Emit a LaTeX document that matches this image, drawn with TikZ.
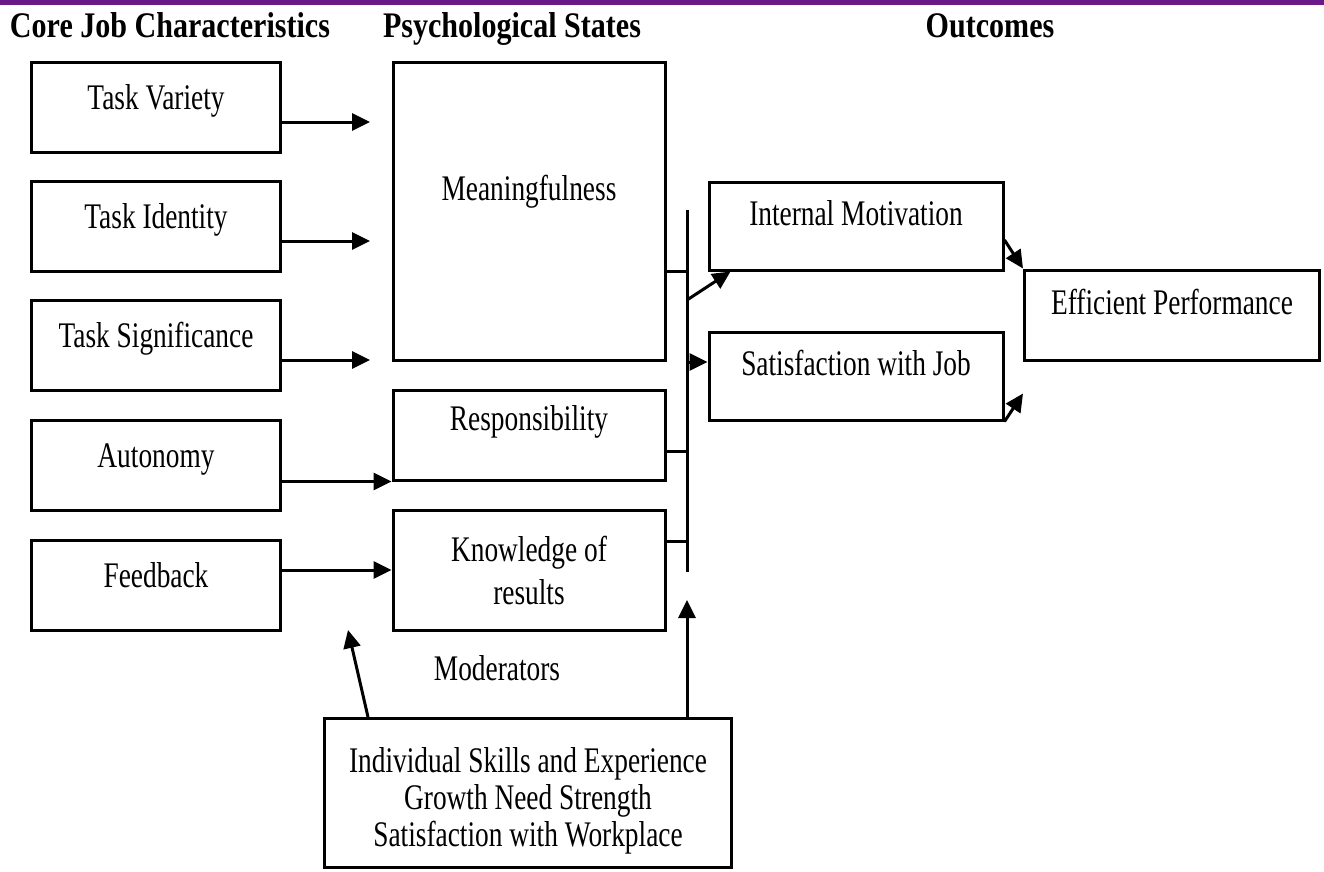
\documentclass[tikz,border=0pt]{standalone}
\usepackage{fontspec}
\setmainfont{Liberation Serif}[FakeStretch=0.76]
\newfontfamily\headfont{Liberation Serif}[FakeStretch=0.835]
\usetikzlibrary{
  positioning,
  calc,
  arrows.meta
}
\definecolor{topbar}{RGB}{106,26,136}
\tikzstyle{box}=[draw, rectangle, line width=3pt, inner sep=0pt, text height=24pt, text depth=20pt, font=\fontsize{36}{43}\selectfont]
\tikzstyle{multibox}=[draw, rectangle, line width=3pt, inner sep=0pt, align=center]
\tikzstyle{arrow}=[-{Triangle[length=18pt,width=17pt]}, line width=3pt]
\tikzstyle{link}=[line width=3pt]
\tikzstyle{header}=[anchor=base, font=\headfont\bfseries\fontsize{36}{43}\selectfont]

\begin{document}
\begin{tikzpicture}[x=1pt, y=-1pt]
    \useasboundingbox (0,0) rectangle (1324,871);

    % 上の帯
    \fill[topbar] (0,0) rectangle (1324,5);

    % 見出し
    \node[header] (hjob) at (170,37) {Core Job Characteristics};
    \node[header] (hpsy) at (512,37) {Psychological States};
    \node[header] (hout) at (990,37) {Outcomes};

    % 職務特性
    \node[box, minimum width=249pt, minimum height=90pt] (tv) at (156,107) {Task Variety};
    \node[box, minimum width=249pt, minimum height=90pt] (ti) at (156,226) {Task Identity};
    \node[box, minimum width=249pt, minimum height=90pt] (ts) at (156,345) {Task Significance};
    \node[box, minimum width=249pt, minimum height=90pt] (au) at (156,465) {Autonomy};
    \node[box, minimum width=249pt, minimum height=90pt] (fb) at (156,585) {Feedback};

    % 心理状態
    \node[box, minimum width=272pt, minimum height=298pt, text depth=46pt] (mean) at (529,211) {Meaningfulness};
    \node[box, minimum width=272pt, minimum height=90pt, text depth=34pt] (resp) at (529,435) {Responsibility};
    \node[multibox, minimum width=272pt, minimum height=120pt, font=\fontsize{36}{43}\selectfont] (kr) at (529,570) {Knowledge of\\results};

    % 成果
    \node[box, minimum width=294pt, minimum height=88pt, text depth=26pt] (im) at (856,226) {Internal Motivation};
    \node[box, minimum width=294pt, minimum height=88pt, text depth=26pt] (sj) at (856,376) {Satisfaction with Job};
    \node[box, minimum width=295pt, minimum height=90pt, text depth=26pt] (ep) at (1172,315) {Efficient Performance};

    % 調整変数
    \node[anchor=base, font=\fontsize{36}{43}\selectfont] (modl) at (497,680) {Moderators};
    \node[multibox, minimum width=407pt, minimum height=149pt, font=\fontsize{36}{37}\selectfont] (mod) at (528,793) {\rule{0pt}{40pt}Individual Skills and Experience\\Growth Need Strength\\Satisfaction with Workplace};

    % 補助の点
    \coordinate (mx) at (370,0);
    \coordinate (bar) at (687,0);
    \coordinate (barT) at (687,210);
    \coordinate (barB) at (687,572);
    \coordinate (barIM) at (687,300);
    \coordinate (modTip) at (687,600);
    \coordinate (leftTip) at (348,630);

    % 職務特性から心理状態への矢印
    \draw[arrow] ([yshift=-15pt]tv.east) -- ([yshift=-15pt]tv.east -| mx);
    \draw[arrow] ([yshift=-15pt]ti.east) -- ([yshift=-15pt]ti.east -| mx);
    \draw[arrow] ([yshift=-15pt]ts.east) -- ([yshift=-15pt]ts.east -| mx);
    \draw[arrow] (au.east |- resp.south) -- (resp.south west);
    \draw[arrow] (fb.east |- kr.west) -- (kr.west);

    % 縦の線と接続
    \draw[link] (barT) -- (barB);
    \draw[link] (mean.east |- im.south) -- (im.south -| bar);
    \draw[link] ([yshift=-16pt]resp.east) -- ([yshift=-16pt]resp.east -| bar);
    \draw[link] ([yshift=29pt]kr.east) -- ([yshift=29pt]kr.east -| bar);

    % 成果への矢印
    \draw[arrow] (barIM) -- ([xshift=23pt]im.south west);
    \draw[arrow] ([yshift=14pt]sj.west -| bar) -- ([yshift=14pt]sj.west);
    \draw[arrow] ([yshift=-14pt]im.east) -- (ep.north west);
    \draw[arrow] (sj.south east) -- ([yshift=-32pt]ep.south west);

    % 調整変数からの矢印
    \draw[arrow] ([xshift=45pt]mod.north west) -- (leftTip);
    \draw[arrow] (bar |- mod.north) -- (modTip);
\end{tikzpicture}
\end{document}
